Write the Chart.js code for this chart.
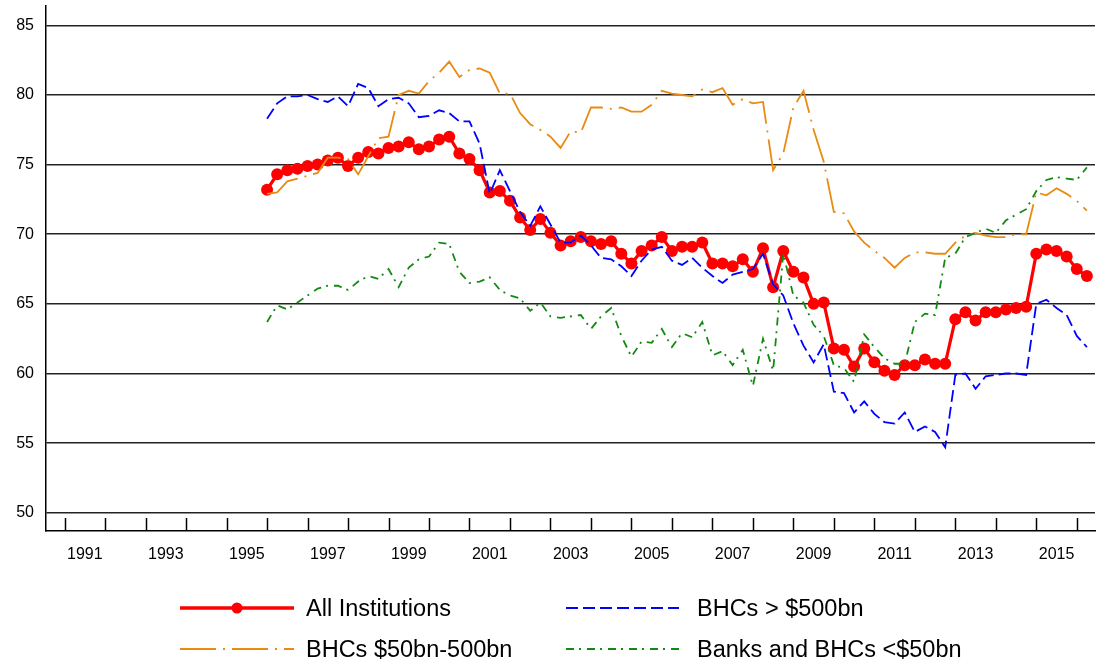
<!DOCTYPE html>
<html>
<head>
<meta charset="utf-8">
<title>Share by institution size</title>
<script src="https://cdn.jsdelivr.net/npm/chart.js@4.4.1/dist/chart.umd.min.js"></script>
<style>
  body { margin: 0; background: #fff; }
  #wrap { position: relative; width: 1101px; height: 662px; }
  #chart { position: absolute; left: 0; top: 0; }
  .key { position: absolute; height: 30px; display: flex; align-items: center;
         font: 23.5px "Liberation Sans", Arial, sans-serif; color: #000; white-space: nowrap; }
</style>
</head>
<body>
<div id="wrap">
  <canvas id="chart" width="1101" height="662"></canvas>
  <div id="legend"></div>
</div>
<script>
// Quarterly series, 1995 Q4 through 2016 Q1 (82 quarters)
const firstYear = 1995;
const firstQuarter = 4;

const allInstitutions = [
  73.2, 74.3, 74.6, 74.7, 74.9, 75.0, 75.3, 75.5, 74.9, 75.5,
  75.9, 75.8, 76.2, 76.3, 76.6, 76.1, 76.3, 76.8, 77.0, 75.8,
  75.4, 74.6, 73.0, 73.1, 72.4, 71.2, 70.3, 71.1, 70.1, 69.2,
  69.5, 69.8, 69.5, 69.3, 69.5, 68.6, 67.9, 68.8, 69.2, 69.8,
  68.8, 69.1, 69.1, 69.4, 67.9, 67.9, 67.7, 68.2, 67.3, 69.0,
  66.2, 68.8, 67.3, 66.9, 65.0, 65.1, 61.8, 61.7, 60.5, 61.8,
  60.8, 60.2, 59.9, 60.6, 60.6, 61.0, 60.7, 60.7, 63.9, 64.4,
  63.8, 64.4, 64.4, 64.6, 64.7, 64.8, 68.6, 68.9, 68.8, 68.4,
  67.5, 67.0
];

const bhcOver500 = [
  78.3, 79.4, 79.9, 79.9, 80.0, 79.7, 79.5, 79.9, 79.2, 80.8,
  80.5, 79.2, 79.7, 79.8, 79.4, 78.4, 78.5, 78.9, 78.7, 78.1,
  78.1, 76.5, 72.9, 74.6, 73.1, 71.6, 70.6, 72.0, 70.7, 69.4,
  69.4, 69.9, 69.2, 68.3, 68.2, 67.7, 67.0, 68.1, 68.9, 69.1,
  68.1, 67.8, 68.3, 67.6, 67.0, 66.5, 67.1, 67.3, 67.5, 68.6,
  66.4, 65.6, 63.6, 62.0, 60.8, 62.1, 58.7, 58.6, 57.2, 58.0,
  57.1, 56.5, 56.4, 57.2, 55.8, 56.2, 55.8, 54.7, 59.9, 60.0,
  58.9, 59.8, 59.9, 60.0, 60.0, 59.9, 65.0, 65.3, 64.7, 64.2,
  62.7, 61.9
];

const bhc50to500 = [
  72.9, 73.0, 73.8, 74.0, 74.2, 74.4, 75.5, 75.5, 75.4, 74.3,
  75.6, 76.9, 77.0, 80.0, 80.3, 80.1, 81.0, 81.6, 82.4, 81.3,
  81.8, 81.9, 81.6, 80.1, 80.1, 78.7, 77.9, 77.5, 77.0, 76.2,
  77.4, 77.3, 79.1, 79.1, 79.0, 79.1, 78.8, 78.8, 79.3, 80.3,
  80.1, 80.0, 79.9, 80.4, 80.2, 80.5, 79.3, 79.7, 79.4, 79.5,
  74.6, 75.8, 79.1, 80.3, 77.5, 75.2, 71.6, 71.5, 70.2, 69.4,
  68.8, 68.3, 67.6, 68.3, 68.7, 68.7, 68.6, 68.6, 69.4, 69.9,
  70.1, 69.9, 69.8, 69.8, 70.0, 70.0, 73.0, 72.8, 73.3, 72.9,
  72.4, 71.7
];

const banksUnder50 = [
  63.7, 64.9, 64.6, 65.1, 65.6, 66.1, 66.3, 66.3, 66.0, 66.6,
  67.0, 66.8, 67.5, 66.2, 67.6, 68.2, 68.4, 69.4, 69.3, 67.3,
  66.5, 66.6, 66.9, 66.0, 65.6, 65.4, 64.5, 65.1, 64.1, 64.0,
  64.1, 64.2, 63.2, 64.1, 64.7, 62.7, 61.2, 62.3, 62.2, 63.2,
  61.9, 62.9, 62.6, 63.7, 61.3, 61.6, 60.6, 61.7, 59.1, 62.5,
  60.2, 68.6, 65.6, 65.1, 63.5, 62.7, 60.6, 60.4, 59.4, 62.8,
  61.9, 61.1, 60.7, 60.7, 63.7, 64.3, 64.2, 68.3, 68.6, 69.8,
  70.1, 70.4, 70.1, 71.0, 71.4, 71.8, 73.1, 73.9, 74.1, 74.0,
  73.9, 74.8
];

// Axis labels
const yearLabels = [1991, 1993, 1995, 1997, 1999, 2001, 2003, 2005, 2007, 2009, 2011, 2013, 2015];
const yearTicks  = [1991, 1992, 1993, 1994, 1995, 1996, 1997, 1998, 1999, 2000, 2001, 2002, 2003,
                    2004, 2005, 2006, 2007, 2008, 2009, 2010, 2011, 2012, 2013, 2014, 2015, 2016];
const yTicks     = [50, 55, 60, 65, 70, 75, 80, 85];

const FONT = '"Liberation Sans", Arial, sans-serif';

// quarter k -> position on a year axis (a quarter sits at its end)
function quarterPos(k) {
  return firstYear + (firstQuarter + k) / 4;
}

function toPoints(values) {
  return values.map(function (v, k) { return { x: quarterPos(k), y: v }; });
}

const series = [
  { label: "All Institutions",      data: allInstitutions, color: "#ff0000", dash: [],            width: 3.2, points: 6, order: 4 },
  { label: "BHCs > $500bn",         data: bhcOver500,      color: "#0000ff", dash: [12, 5],       width: 1.8, points: 0, order: 3 },
  { label: "BHCs $50bn-500bn",      data: bhc50to500,      color: "#e98b12", dash: [36, 7, 2, 7], width: 1.8, points: 0, order: 2 },
  { label: "Banks and BHCs <$50bn", data: banksUnder50,    color: "#128a12", dash: [8, 5, 2, 6],  width: 1.8, points: 0, order: 1 }
];

// Short upward tick marks at every year boundary on the bottom axis
const yearTickMarks = {
  id: "yearTickMarks",
  afterDraw: function (chart) {
    const xs = chart.scales.x;
    const bottom = chart.chartArea.bottom;
    const ctx = chart.ctx;
    ctx.save();
    ctx.strokeStyle = "#000";
    ctx.lineWidth = 1.5;
    yearTicks.forEach(function (yr) {
      const px = Math.round(xs.getPixelForValue(yr)) + 0.5;
      ctx.beginPath();
      ctx.moveTo(px, bottom);
      ctx.lineTo(px, bottom - 13);
      ctx.stroke();
    });
    ctx.restore();
  }
};

// Drop the label overhang padding so the plot box sits where we want it
function noLabelPadding(scale) {
  scale.paddingTop = 0;
  scale.paddingBottom = 0;
  scale.paddingLeft = 0;
  scale.paddingRight = 0;
}

new Chart(document.getElementById("chart"), {
  type: "line",
  data: {
    datasets: series.map(function (s) {
      return {
        label: s.label,
        data: toPoints(s.data),
        borderColor: s.color,
        backgroundColor: s.color,
        borderWidth: s.width,
        borderDash: s.dash,
        pointRadius: s.points,
        pointBorderWidth: 0,
        pointBackgroundColor: s.color,
        tension: 0,
        fill: false,
        order: s.order
      };
    })
  },
  options: {
    responsive: false,
    animation: false,
    layout: { padding: { left: 0, right: 4, top: 4, bottom: 0 } },
    plugins: {
      legend: { display: false },
      tooltip: { enabled: false }
    },
    scales: {
      x: {
        type: "linear",
        min: 1990.54,
        max: 2016.45,
        grid: { display: false },
        border: { display: true, color: "#000", width: 1.5 },
        afterBuildTicks: function (scale) {
          scale.ticks = yearLabels.map(function (y) { return { value: y + 0.5 }; });
        },
        afterFit: function (scale) { scale.height = 131; noLabelPadding(scale); },
        ticks: {
          autoSkip: false,
          maxRotation: 0,
          padding: 6,
          color: "#000",
          font: { family: FONT, size: 16 },
          callback: function (v) { return String(Math.floor(v)); }
        }
      },
      y: {
        min: 48.69,
        max: 86.39,
        afterBuildTicks: function (scale) {
          scale.ticks = yTicks.map(function (v) { return { value: v }; });
        },
        afterFit: function (scale) { scale.width = 46; noLabelPadding(scale); },
        grid: { color: "#222", lineWidth: 1.5, drawTicks: false },
        border: { display: true, color: "#000", width: 1.5 },
        ticks: {
          padding: 12,
          color: "#000",
          font: { family: FONT, size: 16 }
        }
      }
    }
  },
  plugins: [yearTickMarks]
});

// Two-column legend under the plot
const legendSlots = [
  { left: 180, top: 593, gap: 12 },
  { left: 566, top: 593, gap: 18 },
  { left: 180, top: 634, gap: 12 },
  { left: 566, top: 634, gap: 18 }
];

document.getElementById("legend").innerHTML = series.map(function (s, n) {
  const slot = legendSlots[n];
  const w = n % 2 === 0 ? 114 : 113;
  const dot = s.points ? `<circle cx="${w / 2}" cy="15" r="5.5" fill="${s.color}"/>` : "";
  return `
    <div class="key" style="left:${slot.left}px;top:${slot.top}px;">
      <svg width="${w}" height="30" style="margin-right:${slot.gap}px">
        <line x1="0" y1="15" x2="${w}" y2="15" stroke="${s.color}"
              stroke-width="${s.width + 0.3}" stroke-dasharray="${s.dash.join(" ") || "none"}"/>
        ${dot}
      </svg>
      <span>${s.label}</span>
    </div>`;
}).join("");
</script>
</body>
</html>
